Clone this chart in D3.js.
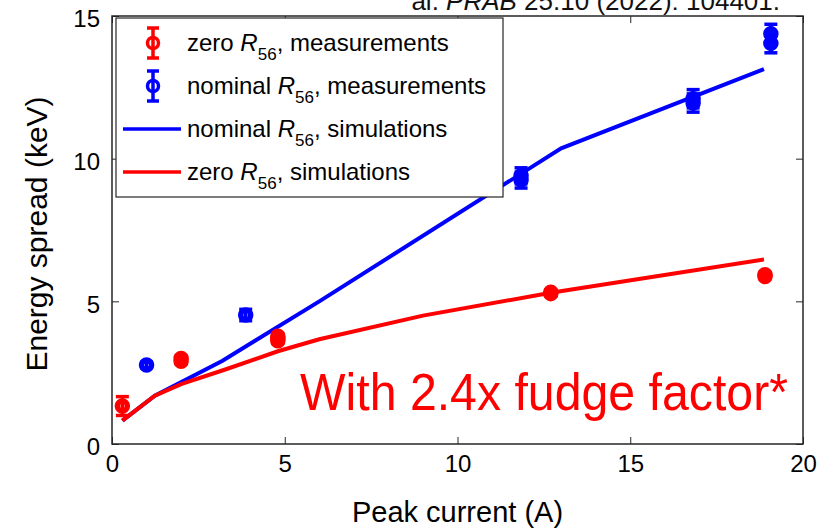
<!DOCTYPE html>
<html>
<head>
<meta charset="utf-8">
<script src="https://cdn.jsdelivr.net/npm/d3@7"></script>
<style>
  body { margin: 0; background: #fff; }
  svg { display: block; font-family: "Liberation Sans", Arial, Helvetica, sans-serif; }
</style>
</head>
<body>
<div id="chart"></div>
<script>
// zero R56, measurements
const zeroMeasCurrent = [0.3, 2.0, 2.0, 4.8, 4.8, 4.8, 12.7, 12.7, 18.9, 18.9];
const zeroMeasSpread  = [1.33, 2.9, 3.0, 3.62, 3.7, 3.78, 5.27, 5.32, 5.87, 5.93];
const zeroMeasErr     = [0.33, 0.1, 0.1, 0.1, 0.1, 0.1, 0.08, 0.08, 0.1, 0.1];

// nominal R56, measurements
const nomMeasCurrent = [1.0, 3.87, 11.84, 11.84, 16.82, 16.82, 19.07, 19.07];
const nomMeasSpread  = [2.77, 4.52, 9.25, 9.4, 11.95, 12.1, 14.04, 14.38];
const nomMeasErr     = [0.1, 0.2, 0.28, 0.28, 0.32, 0.32, 0.33, 0.33];

// simulations
const nomSimCurrent  = [0.3, 1.24, 3.2, 6.0, 13.0, 18.87];
const nomSimSpread   = [0.82, 1.69, 2.92, 5.0, 10.36, 13.14];
const zeroSimCurrent = [0.3, 1.24, 2.0, 3.3, 4.8, 6.0, 9.0, 12.7, 18.87];
const zeroSimSpread  = [0.82, 1.69, 2.1, 2.62, 3.25, 3.67, 4.5, 5.3, 6.47];

const xTicks = [0, 5, 10, 15, 20];
const yTicks = [0, 5, 10, 15];

const legendLabels = [
  {pre: "zero ", post: ", measurements", kind: "meas", color: "#ff0000"},
  {pre: "nominal ", post: ", measurements", kind: "meas", color: "#0000ff"},
  {pre: "nominal ", post: ", simulations", kind: "line", color: "#0000ff"},
  {pre: "zero ", post: ", simulations", kind: "line", color: "#ff0000"}
];

const width = 834, height = 528;
const margin = {top: 16, right: 31, bottom: 84, left: 112};
const red = "#ff0000", blue = "#0000ff";

const svg = d3.select("#chart").append("svg")
  .attr("width", width)
  .attr("height", height);

const x = d3.scaleLinear().domain([0, 20]).range([margin.left, width - margin.right]);
const y = d3.scaleLinear().domain([0, 15]).range([height - margin.bottom, margin.top]);

// header fragment (cut off at top, as in the source slide)
const header = svg.append("text")
  .attr("x", 780).attr("y", 10)
  .attr("text-anchor", "end")
  .style("font-size", "26px")
  .attr("fill", "#111");
header.append("tspan").text("al. ");
header.append("tspan").style("font-style", "italic").text("PRAB");
header.append("tspan").text(" 25.10 (2022): 104401.");

// axes, ticks pointing inward
const tickLen = 7;
svg.append("g")
  .attr("transform", `translate(0,${y(0)})`)
  .call(d3.axisBottom(x).tickValues(xTicks).tickSize(-tickLen).tickPadding(11))
  .call(g => g.select(".domain").remove())
  .call(g => g.selectAll("text").style("font-size", "24px").attr("fill", "#000"))
  .call(g => g.selectAll("line").attr("stroke", "#262626"));

svg.append("g")
  .attr("transform", `translate(${x(0)},0)`)
  .call(d3.axisLeft(y).tickValues(yTicks).tickSize(-tickLen).tickPadding(12))
  .call(g => g.select(".domain").remove())
  .call(g => g.selectAll("text").style("font-size", "24px").attr("dy", "0.45em").attr("fill", "#000"))
  .call(g => g.selectAll("line").attr("stroke", "#262626"));

svg.append("g")
  .attr("transform", `translate(0,${y(15)})`)
  .call(d3.axisTop(x).tickValues(xTicks).tickSize(-tickLen).tickFormat(""))
  .call(g => g.select(".domain").remove())
  .call(g => g.selectAll("line").attr("stroke", "#262626"));

svg.append("g")
  .attr("transform", `translate(${x(20)},0)`)
  .call(d3.axisRight(y).tickValues(yTicks).tickSize(-tickLen).tickFormat(""))
  .call(g => g.select(".domain").remove())
  .call(g => g.selectAll("line").attr("stroke", "#262626"));

svg.append("rect")
  .attr("x", x(0)).attr("y", y(15))
  .attr("width", x(20) - x(0)).attr("height", y(0) - y(15))
  .attr("fill", "none").attr("stroke", "#262626").attr("stroke-width", 1.5);

// axis titles
svg.append("text")
  .attr("transform", `translate(47,${(y(0) + y(15)) / 2 + 4}) rotate(-90)`)
  .attr("text-anchor", "middle")
  .style("font-size", "30px")
  .text("Energy spread (keV)");

svg.append("text")
  .attr("x", (x(0) + x(20)) / 2).attr("y", 522)
  .attr("text-anchor", "middle")
  .style("font-size", "29px")
  .text("Peak current (A)");

// simulation lines
const line = d3.line().x(d => x(d[0])).y(d => y(d[1]));
svg.append("path")
  .datum(d3.zip(nomSimCurrent, nomSimSpread))
  .attr("d", line)
  .attr("fill", "none").attr("stroke", blue).attr("stroke-width", 4);
svg.append("path")
  .datum(d3.zip(zeroSimCurrent, zeroSimSpread))
  .attr("d", line)
  .attr("fill", "none").attr("stroke", red).attr("stroke-width", 4);

// measurement markers with error bars (open circles, bar shows through)
function drawMeas(cur, spr, err, color) {
  const data = d3.zip(cur, spr, err);
  const g = svg.append("g");
  const cap = 6.5;
  data.forEach(d => {
    const cx = x(d[0]);
    g.append("line")
      .attr("x1", cx).attr("x2", cx)
      .attr("y1", y(d[1] - d[2])).attr("y2", y(d[1] + d[2]))
      .attr("stroke", color).attr("stroke-width", 3.5);
    [d[1] - d[2], d[1] + d[2]].forEach(v => {
      g.append("line")
        .attr("x1", cx - cap).attr("x2", cx + cap)
        .attr("y1", y(v)).attr("y2", y(v))
        .attr("stroke", color).attr("stroke-width", 3.5);
    });
  });
  g.selectAll("circle")
    .data(data)
    .join("circle")
    .attr("cx", d => x(d[0]))
    .attr("cy", d => y(d[1]))
    .attr("r", 5)
    .attr("fill", "none")
    .attr("stroke", color)
    .attr("stroke-width", 5.5);
}
drawMeas(zeroMeasCurrent, zeroMeasSpread, zeroMeasErr, red);
drawMeas(nomMeasCurrent, nomMeasSpread, nomMeasErr, blue);

// annotation
svg.append("text")
  .attr("x", 300).attr("y", 410)
  .attr("fill", red)
  .attr("textLength", 488)
  .attr("lengthAdjust", "spacingAndGlyphs")
  .style("font-size", "52px")
  .text("With 2.4x fudge factor*");

// legend
const legend = svg.append("g");
legend.append("rect")
  .attr("x", 116).attr("y", 18)
  .attr("width", 387).attr("height", 179)
  .attr("fill", "#fff").attr("stroke", "#262626").attr("stroke-width", 1.2);

legendLabels.forEach((d, i) => {
  const cy = 43 + i * 43;
  if (d.kind === "meas") {
    const cx = 153;
    legend.append("line").attr("x1", cx).attr("x2", cx).attr("y1", cy - 15).attr("y2", cy + 15)
      .attr("stroke", d.color).attr("stroke-width", 3.5);
    [cy - 15, cy + 15].forEach(v => legend.append("line")
      .attr("x1", cx - 6).attr("x2", cx + 6).attr("y1", v).attr("y2", v)
      .attr("stroke", d.color).attr("stroke-width", 3.5));
    legend.append("circle").attr("cx", cx).attr("cy", cy).attr("r", 5.5)
      .attr("fill", "none").attr("stroke", d.color).attr("stroke-width", 3.5);
  } else {
    legend.append("line").attr("x1", 123).attr("x2", 181).attr("y1", cy).attr("y2", cy)
      .attr("stroke", d.color).attr("stroke-width", 3.5);
  }
  const t = legend.append("text")
    .attr("x", 187).attr("y", cy + 8)
    .style("font-size", "24px");
  t.append("tspan").text(d.pre);
  t.append("tspan").style("font-style", "italic").text("R");
  t.append("tspan").attr("dy", 9).style("font-size", "17px").text("56");
  t.append("tspan").attr("dy", -9).text(d.post);
});
</script>
</body>
</html>
